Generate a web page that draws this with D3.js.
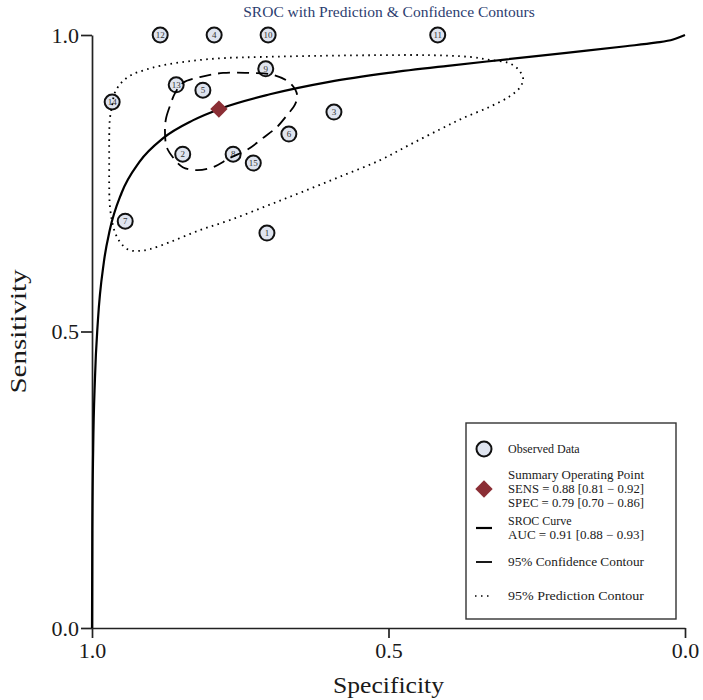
<!DOCTYPE html>
<html>
<head>
<meta charset="utf-8">
<script src="https://cdn.jsdelivr.net/npm/d3@7"></script>
<style>
  html, body { margin: 0; padding: 0; background: #fff; }
  svg { display: block; }
  text { font-family: "Liberation Serif", "DejaVu Serif", serif; }
</style>
</head>
<body>
<svg id="chart" width="703" height="700"></svg>
<script>
// ---- data ----
const studyIds   = [1, 2, 3, 4, 5, 6, 7, 8, 9, 10, 11, 12, 13, 14, 15];
const studySpec  = [0.705, 0.847, 0.592, 0.794, 0.813, 0.668, 0.944, 0.762, 0.707, 0.703, 0.417, 0.885, 0.858, 0.966, 0.728];
const studySens  = [0.666, 0.799, 0.870, 1.000, 0.907, 0.833, 0.686, 0.799, 0.943, 1.000, 1.000, 1.000, 0.916, 0.887, 0.784];

const summarySpec = 0.786;
const summarySens = 0.875;

// SROC curve, points (specificity, sensitivity)
const srocSpec = [1.000, 0.9995, 0.998, 0.995, 0.990, 0.980, 0.970, 0.950, 0.920, 0.880, 0.830, 0.780, 0.700, 0.600, 0.500, 0.400, 0.300, 0.200, 0.100, 0.050, 0.020, 0.000];
const srocSens = [0.000, 0.164, 0.302, 0.421, 0.519, 0.617, 0.671, 0.734, 0.786, 0.826, 0.856, 0.877, 0.900, 0.921, 0.936, 0.948, 0.959, 0.970, 0.981, 0.987, 0.9925, 1.000];

// 95% confidence contour (closed)
const confSpec = [0.877, 0.875, 0.868, 0.860, 0.847, 0.818, 0.779, 0.734, 0.696, 0.666, 0.654, 0.658, 0.671, 0.688, 0.712, 0.739, 0.767, 0.796, 0.823, 0.847, 0.863, 0.874];
const confSens = [0.840, 0.860, 0.882, 0.902, 0.919, 0.929, 0.936, 0.936, 0.933, 0.919, 0.899, 0.882, 0.865, 0.845, 0.826, 0.806, 0.793, 0.777, 0.772, 0.777, 0.793, 0.811];

// 95% prediction contour (closed)
const predSpec = [0.970, 0.966, 0.961, 0.949, 0.933, 0.911, 0.885, 0.835, 0.779, 0.712, 0.610, 0.514, 0.430, 0.363, 0.329, 0.298, 0.282, 0.273, 0.278, 0.295, 0.329, 0.374, 0.413, 0.464, 0.514, 0.582, 0.649, 0.705, 0.767, 0.818, 0.868, 0.902, 0.919, 0.936, 0.949, 0.960, 0.966, 0.970, 0.971, 0.971, 0.971];
const predSens = [0.857, 0.882, 0.904, 0.921, 0.933, 0.941, 0.948, 0.956, 0.961, 0.963, 0.965, 0.966, 0.966, 0.963, 0.958, 0.953, 0.943, 0.927, 0.912, 0.897, 0.879, 0.860, 0.841, 0.815, 0.789, 0.761, 0.734, 0.712, 0.688, 0.671, 0.651, 0.639, 0.636, 0.637, 0.646, 0.664, 0.685, 0.713, 0.747, 0.789, 0.823];

const tickValues = [0, 0.5, 1];
const titleText = "SROC with Prediction & Confidence Contours";
const xTitle = "Specificity";
const yTitle = "Sensitivity";
const legendLabels = [
  ["Observed Data"],
  ["Summary Operating Point", "SENS = 0.88 [0.81 \u2212 0.92]", "SPEC = 0.79 [0.70 \u2212 0.86]"],
  ["SROC Curve", "AUC = 0.91 [0.88 \u2212 0.93]"],
  ["95% Confidence Contour"],
  ["95% Prediction Contour"]
];

// ---- drawing ----
const svg = d3.select("#chart");
const x = d3.scaleLinear().domain([1, 0]).range([92, 685]);
const y = d3.scaleLinear().domain([0, 1]).range([628, 35]);

const circleFill = "#dfe4ef";
const diamondColor = "#8b2e35";

// title
svg.append("text")
  .attr("x", 389).attr("y", 17)
  .attr("text-anchor", "middle")
  .attr("font-size", 15.5)
  .attr("fill", "#2c3d6f")
  .text(titleText);

// axes
const yAxis = svg.append("g")
  .attr("transform", `translate(${x(1)},0)`)
  .call(d3.axisLeft(y).tickValues(tickValues).tickFormat(d3.format(".1f")).tickSize(11).tickSizeOuter(0));
const xAxis = svg.append("g")
  .attr("transform", `translate(0,${y(0)})`)
  .call(d3.axisBottom(x).tickValues(tickValues).tickFormat(d3.format(".1f")).tickSize(10).tickSizeOuter(0));
[yAxis, xAxis].forEach(a => {
  a.select(".domain").attr("stroke", "#222").attr("stroke-width", 1.7);
  a.selectAll(".tick line").attr("stroke", "#222").attr("stroke-width", 1.7);
  a.selectAll(".tick text")
    .attr("font-family", "Liberation Serif, serif")
    .attr("font-size", 22)
    .attr("fill", "#1a1a1a");
});
yAxis.selectAll(".tick text").attr("x", -13).attr("dy", "0.34em");
xAxis.selectAll(".tick text").attr("y", 13).attr("dy", "0.76em");

svg.append("text")
  .attr("transform", `translate(26,${y(0.5)}) rotate(-90)`)
  .attr("text-anchor", "middle")
  .attr("font-size", 24)
  .attr("fill", "#1a1a1a")
  .attr("textLength", 124).attr("lengthAdjust", "spacingAndGlyphs")
  .text(yTitle);
svg.append("text")
  .attr("x", x(0.5)).attr("y", 693)
  .attr("text-anchor", "middle")
  .attr("font-size", 24)
  .attr("fill", "#1a1a1a")
  .attr("textLength", 111).attr("lengthAdjust", "spacingAndGlyphs")
  .text(xTitle);

// observed data circles
const studies = studyIds.map((id, i) => ({ id, spec: studySpec[i], sens: studySens[i] }));
const pts = svg.append("g");
const pg = pts.selectAll("g").data(studies).join("g")
  .attr("transform", d => `translate(${x(d.spec)},${y(d.sens)})`);
pg.append("circle").attr("r", 7.5).attr("fill", circleFill).attr("stroke", "#111").attr("stroke-width", 2);
pg.append("text")
  .attr("text-anchor", "middle").attr("dy", "0.35em")
  .attr("font-size", 9).attr("fill", "#333")
  .text(d => d.id);

// lines
const line = d3.line().x(d => x(d[0])).y(d => y(d[1]));
svg.append("path")
  .attr("d", line.curve(d3.curveMonotoneX)(srocSpec.map((s, i) => [s, srocSens[i]])))
  .attr("fill", "none").attr("stroke", "#000").attr("stroke-width", 2.2);

const closed = d3.line().x(d => x(d[0])).y(d => y(d[1])).curve(d3.curveCatmullRomClosed);
svg.append("path")
  .attr("d", closed(confSpec.map((s, i) => [s, confSens[i]])))
  .attr("fill", "none").attr("stroke", "#000").attr("stroke-width", 1.8)
  .attr("stroke-dasharray", "12,7");

svg.append("path")
  .attr("d", closed(predSpec.map((s, i) => [s, predSens[i]])))
  .attr("fill", "none").attr("stroke", "#000").attr("stroke-width", 1.8)
  .attr("stroke-dasharray", "1.6,4.4");

// summary point diamond
const diamond = d3.symbol().type(d3.symbolSquare).size(150);
svg.append("path")
  .attr("d", diamond())
  .attr("transform", `translate(${x(summarySpec)},${y(summarySens)}) rotate(45)`)
  .attr("fill", diamondColor);

// legend
const lg = svg.append("g");
lg.append("rect").attr("x", 466).attr("y", 423).attr("width", 210).attr("height", 196)
  .attr("fill", "#fff").attr("stroke", "#333").attr("stroke-width", 1.4);
const rowY = [449, 489, 528, 562, 596];
const textX = 508;
const symX = 484;
lg.append("circle").attr("cx", symX).attr("cy", rowY[0]).attr("r", 7.5)
  .attr("fill", circleFill).attr("stroke", "#111").attr("stroke-width", 2);
lg.append("path").attr("d", diamond())
  .attr("transform", `translate(${symX},${rowY[1]}) rotate(45)`).attr("fill", diamondColor);
lg.append("line").attr("x1", symX - 8).attr("x2", symX + 8).attr("y1", rowY[2]).attr("y2", rowY[2])
  .attr("stroke", "#000").attr("stroke-width", 2.2);
lg.append("line").attr("x1", symX - 8).attr("x2", symX + 8).attr("y1", rowY[3]).attr("y2", rowY[3])
  .attr("stroke", "#000").attr("stroke-width", 1.8);
lg.append("line").attr("x1", symX - 9).attr("x2", symX + 9).attr("y1", rowY[4]).attr("y2", rowY[4])
  .attr("stroke", "#000").attr("stroke-width", 1.5).attr("stroke-dasharray", "1.5,4.5");
const lineH = 13.9;
legendLabels.forEach((lines, i) => {
  const n = lines.length;
  const startY = rowY[i] - (n - 1) * lineH / 2;
  lines.forEach((t, j) => {
    lg.append("text")
      .attr("x", textX).attr("y", startY + j * lineH)
      .attr("dy", "0.35em")
      .attr("font-size", 12).attr("fill", "#1a1a1a")
      .attr("textLength", t.length > 20 ? 136 : null)
      .attr("lengthAdjust", "spacingAndGlyphs")
      .text(t);
  });
});
</script>
</body>
</html>
